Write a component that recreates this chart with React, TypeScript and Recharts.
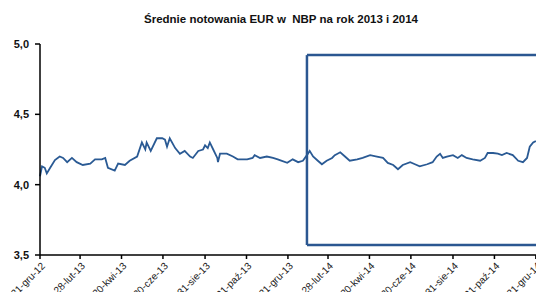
import { LineChart, Line, XAxis, YAxis, ReferenceLine } from "recharts";

// day offsets counted from 31-12-2012, average EUR rate (PLN)
const days = [
  0, 3, 7, 10, 15, 22, 29, 34, 40, 47, 54, 63, 74, 81, 91, 96, 100, 110, 115, 125,
  132, 143, 150, 155, 157, 163, 172, 180, 184, 187, 191, 199, 206, 213, 221, 225, 233, 240, 243, 247,
  250, 255, 261, 262, 265, 275, 284, 291, 305, 313, 316, 324, 334, 343, 350, 353, 364, 372, 380, 387,
  393, 397, 402, 409, 415, 422, 430, 434, 442, 449, 456, 467, 475, 486, 496, 505, 512, 520, 527, 534,
  545, 552, 559, 570, 578, 584, 589, 593, 599, 608, 615, 621, 628, 637, 648, 655, 659, 667, 674, 680,
  687, 696, 704, 711, 717, 721, 726, 730,
];
const rates = [
  4.06, 4.13, 4.12, 4.08, 4.12, 4.175, 4.2, 4.19, 4.16, 4.19, 4.16, 4.14, 4.15, 4.18, 4.18, 4.19, 4.12, 4.1, 4.15, 4.14,
  4.17, 4.2, 4.3, 4.25, 4.3, 4.24, 4.33, 4.33, 4.32, 4.27, 4.33, 4.26, 4.22, 4.24, 4.2, 4.19, 4.24, 4.25, 4.28, 4.26,
  4.3, 4.25, 4.19, 4.16, 4.22, 4.22, 4.2, 4.18, 4.18, 4.19, 4.21, 4.19, 4.2, 4.19, 4.18, 4.175, 4.155, 4.18, 4.16, 4.17,
  4.21, 4.24, 4.2, 4.17, 4.145, 4.17, 4.19, 4.21, 4.23, 4.2, 4.17, 4.18, 4.19, 4.21, 4.2, 4.19, 4.155, 4.14, 4.11, 4.14,
  4.16, 4.145, 4.13, 4.145, 4.16, 4.2, 4.22, 4.19, 4.2, 4.21, 4.19, 4.21, 4.19, 4.18, 4.17, 4.19, 4.225, 4.225, 4.22, 4.21,
  4.225, 4.21, 4.17, 4.16, 4.19, 4.27, 4.3, 4.31,
];

const tickDays = [0, 59, 120, 181, 243, 304, 365, 424, 485, 546, 608, 669, 730];
const tickLabels = [
  "31-gru-12", "28-lut-13", "30-kwi-13", "30-cze-13", "31-sie-13", "31-paź-13",
  "31-gru-13", "28-lut-14", "30-kwi-14", "30-cze-14", "31-sie-14", "31-paź-14", "31-gru-14",
];
const yTicks = [3.5, 4.0, 4.5, 5.0];

// highlighted box (2014 period), open to the right
const boxX = [393, 740];
const boxY = [3.571, 4.921];

const data = days.map((d, i) => ({ day: d, rate: rates[i] }));

const font = "'Liberation Sans', Arial, sans-serif";
const boxColor = "#2b5791";

const XTick = (props: any) => {
  const { x, y, payload } = props;
  const idx = tickDays.indexOf(payload.value);
  return (
    <g transform={`translate(${x},${y})`}>
      <text x={0} y={8} textAnchor="end" transform="rotate(-45)" fontSize={10} fill="#222" fontFamily={font}>
        {tickLabels[idx]}
      </text>
    </g>
  );
};

export default function App() {
  return (
    <div style={{ position: "absolute", left: 0, top: 0, width: 536, height: 292, overflow: "hidden", background: "#fff" }}>
      <div
        style={{
          position: "absolute", left: 0, top: 13, width: 562, textAlign: "center",
          fontFamily: font, fontWeight: "bold", fontSize: 11.5, lineHeight: "13px", whiteSpace: "pre", color: "#111",
        }}
      >
        Średnie notowania EUR w  NBP na rok 2013 i 2014
      </div>
      <div style={{ position: "absolute", left: 0, top: 0, width: 601, height: 292 }}>
        <LineChart width={601} height={292} data={data} margin={{ top: 44, right: 4, bottom: 0, left: 0 }}>
          <XAxis
            type="number"
            dataKey="day"
            domain={[0, 820]}
            ticks={tickDays}
            interval={0}
            tick={<XTick />}
            tickSize={4}
            stroke="#000"
            strokeWidth={1.5}
            tickLine={{ stroke: "#000" }}
            height={37}
          />
          <YAxis
            type="number"
            domain={[3.5, 5]}
            ticks={yTicks}
            width={40}
            tickSize={5}
            tickMargin={6}
            stroke="#000"
            strokeWidth={1.5}
            tickFormatter={(v: number) => v.toFixed(1).replace(".", ",")}
            tick={{ fontSize: 11, fontWeight: "bold", fill: "#111", fontFamily: font }}
          />
          <ReferenceLine
            segment={[{ x: boxX[0], y: boxY[1] }, { x: boxX[1], y: boxY[1] }]}
            stroke={boxColor}
            strokeWidth={2.5}
          />
          <ReferenceLine
            segment={[{ x: boxX[0], y: boxY[0] }, { x: boxX[1], y: boxY[0] }]}
            stroke={boxColor}
            strokeWidth={2.5}
          />
          <ReferenceLine
            segment={[{ x: boxX[0], y: boxY[0] }, { x: boxX[0], y: boxY[1] }]}
            stroke={boxColor}
            strokeWidth={2.5}
          />
          <Line
            type="linear"
            dataKey="rate"
            stroke="#2a5a94"
            strokeWidth={1.8}
            dot={false}
            isAnimationActive={false}
          />
        </LineChart>
      </div>
    </div>
  );
}
